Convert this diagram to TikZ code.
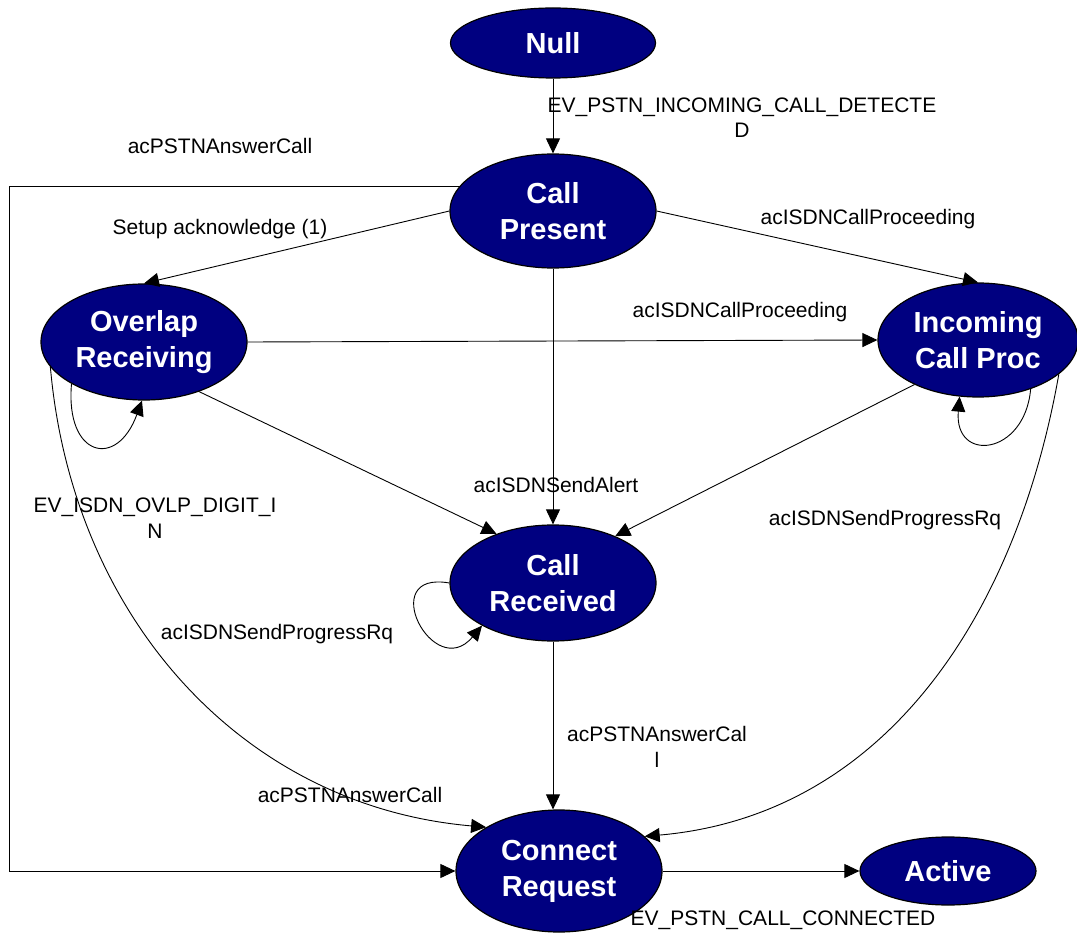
\documentclass[tikz,border=0pt]{standalone}
\usepackage{fontspec}
\setmainfont{Liberation Sans}
\usetikzlibrary{shapes.geometric,arrows.meta}

\definecolor{stnavy}{RGB}{0,0,128}

\tikzset{
  state/.style={ellipse, draw=black, line width=1.2pt, fill=stnavy, text=white,
    inner sep=0pt, align=center, font=\fontsize{29}{36}\selectfont\bfseries},
  trans/.style={-{Triangle[length=15pt,width=14pt]}, line width=0.9pt},
  lbl/.style={anchor=base, align=center, inner sep=0pt,
    font=\fontsize{21}{25.5}\selectfont}
}

\begin{document}
\begin{tikzpicture}[x=1pt,y=-1pt]
            \useasboundingbox (0,0) rectangle (1077,933);

            % states
            \node[state, minimum width=205pt, minimum height=70pt] (null) at (553,43) {Null};
            \node[state, minimum width=206pt, minimum height=114pt] (cp) at (553,211) {Call\\Present};
            \node[state, minimum width=206pt, minimum height=116pt] (ov) at (144,342) {Overlap\\Receiving};
            \node[state, minimum width=200pt, minimum height=114pt] (inc) at (978,340) {Incoming\\Call Proc};
            \node[state, minimum width=206pt, minimum height=116pt] (rec) at (553,583) {Call\\Received};
            \node[state, minimum width=206pt, minimum height=122pt] (cr) at (559,871) {Connect\\Request};
            \node[state, minimum width=176pt, minimum height=68pt] (act) at (948,871) {Active};

            \coordinate (lft) at (9,0);

            % transitions
            \draw[trans] (null) -- (cp);
            \draw[trans] (cp.165) -- (cp.165 -| lft) |- (cr.west);
            \draw[trans] (cp.west) -- (ov.north);
            \draw[trans] (cp.east) -- (inc.north);
            \draw[trans] (ov.east) -- (inc.west);
            \draw[trans] (cp) -- (rec);
            \draw[trans] (ov.-42) -- (rec.139);
            \draw[trans] (inc.215) -- (rec.37);
            \draw[trans] (ov.210) to[out=-95, in=-110, looseness=2.6] (ov.268);
            \draw[trans] (inc.317) to[out=-95, in=-95, looseness=2.4] (inc.252);
            \draw[trans] (rec.west) to[out=170, in=-130, looseness=3.6] (rec.211);
            \draw[trans] (ov.195) to[out=-85, in=175] (cr.149);
            \draw[trans] (inc.337) to[out=-100, in=5] (cr.22);
            \draw[trans] (rec.south) -- (rec.south |- cr.north);
            \draw[trans] (cr) -- (act);

            % labels
            \node[lbl] (lnull) at (742,138) {EV\_PSTN\_INCOMING\_CALL\_DETECTE\\D};
            \node[lbl] (ltop) at (220,154) {acPSTNAnswerCall};
            \node[lbl] (lsetup) at (220,235) {Setup acknowledge (1)};
            \node[lbl] (lprocA) at (868,225) {acISDNCallProceeding};
            \node[lbl] (lprocB) at (740,318) {acISDNCallProceeding};
            \node[lbl] (lalert) at (556,492) {acISDNSendAlert};
            \node[lbl] (ldigit) at (155,538) {EV\_ISDN\_OVLP\_DIGIT\_I\\N};
            \node[lbl] (lprogA) at (277,639) {acISDNSendProgressRq};
            \node[lbl] (lprogB) at (885,525) {acISDNSendProgressRq};
            \node[lbl] (lansA) at (657,767) {acPSTNAnswerCal\\l};
            \node[lbl] (lansB) at (350,802) {acPSTNAnswerCall};
            \node[lbl] (lconn) at (783,925) {EV\_PSTN\_CALL\_CONNECTED};

\end{tikzpicture}
\end{document}
